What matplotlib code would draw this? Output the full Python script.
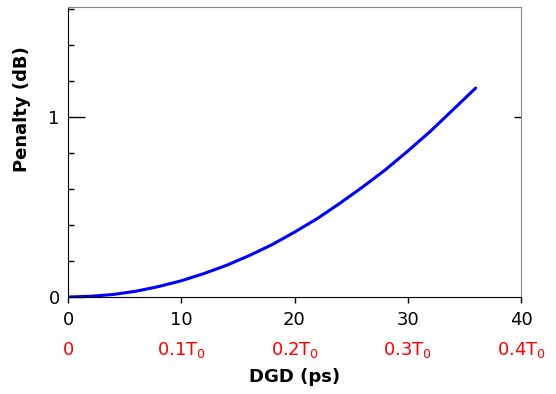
import numpy as np
import matplotlib.pyplot as plt
from matplotlib.transforms import blended_transform_factory

# DGD penalty curve
dgd_ps = [0, 2, 4, 6, 8, 10, 12, 14, 16, 18, 20, 22, 24, 26, 28, 30, 32, 34, 36]
penalty_db = [0, 0.004, 0.014, 0.032, 0.058, 0.09, 0.13, 0.176, 0.23, 0.29,
              0.36, 0.435, 0.52, 0.61, 0.705, 0.81, 0.92, 1.04, 1.16]

x_ticks = [0, 10, 20, 30, 40]
x_tick_labels = ["0", "10", "20", "30", "40"]
t0_labels = ["0", r"0.1T$_0$", r"0.2T$_0$", r"0.3T$_0$", r"0.4T$_0$"]

plt.rcParams['font.family'] = ['DejaVu Sans']
plt.rcParams['mathtext.default'] = 'regular'

fig = plt.figure(figsize=(5.56, 3.94), dpi=100)
ax = fig.add_axes([68 / 556, 1 - 297 / 394, (521 - 68) / 556, (297 - 7) / 394])

ax.plot(dgd_ps, penalty_db, color="#0000ff", lw=2.2, solid_capstyle="round")

ax.set_xlim(0, 40)
ax.set_ylim(0, 1.61)

ax.set_xticks(x_ticks)
ax.set_xticklabels(x_tick_labels, fontsize=13)
ax.set_yticks([0, 1])
ax.set_yticklabels(["0", "1"], fontsize=13)
ax.set_yticks(np.arange(0, 1.61, 0.2), minor=True)

ax.tick_params(axis="x", direction="out", length=4, width=1, pad=6)
ax.tick_params(axis="y", which="major", direction="in", length=12, width=1, pad=6,
               right=True)
ax.tick_params(axis="y", which="minor", direction="in", length=4, width=1)

# right side: only a short tick at 1
ytks = ax.yaxis.get_major_ticks()
for t in ytks:
    t.tick2line.set_markersize(5)
ytks[0].tick2line.set_visible(False)

for side in ["top", "right"]:
    ax.spines[side].set_color("#888888")
for side in ["left", "bottom"]:
    ax.spines[side].set_color("black")

# second row of x labels in units of T0
trans = blended_transform_factory(ax.transData, fig.transFigure)
for xv, lab in zip(x_ticks, t0_labels):
    ax.text(xv, 1 - 350 / 394, lab, color="red", fontsize=13,
            ha="center", va="center", transform=trans)

fig.text(295 / 556, 1 - 377 / 394, "DGD (ps)", fontsize=13, fontweight="bold",
         ha="center", va="center")
fig.text(22 / 556, 1 - 109 / 394, "Penalty (dB)", fontsize=13, fontweight="bold",
         rotation=90, ha="center", va="center")

plt.savefig("out.png", dpi=100)
